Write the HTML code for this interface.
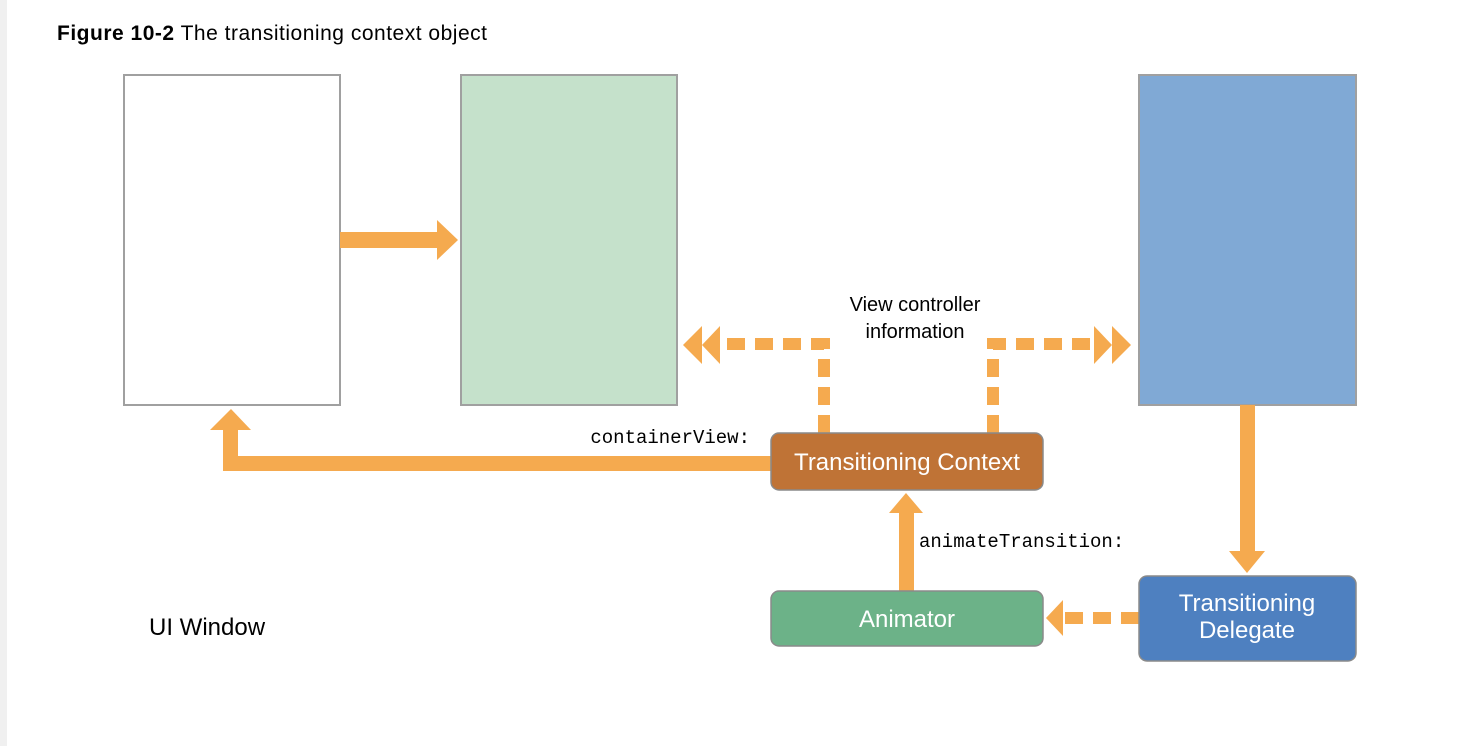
<!DOCTYPE html>
<html><head><meta charset="utf-8"><style>
html,body{margin:0;padding:0;background:#fff;}
body{width:1462px;height:746px;overflow:hidden;position:relative;}
</style></head><body>
<div style="position:absolute;left:0;top:0;width:7px;height:746px;background:#f0f0f0"></div>
<svg width="1462" height="746" style="position:absolute;left:0;top:0" font-family="Liberation Sans, sans-serif">
<text x="57" y="40" font-size="21" fill="#000" textLength="430"><tspan font-weight="bold">Figure 10-2</tspan> The transitioning context object</text>
<rect x="124" y="75" width="216" height="330" fill="#fff" stroke="#a0a0a0" stroke-width="2"/>
<rect x="461" y="75" width="216" height="330" fill="#c5e1cb" stroke="#a0a0a0" stroke-width="2"/>
<rect x="1139" y="75" width="217" height="330" fill="#80a9d5" stroke="#a0a0a0" stroke-width="2"/>
<g fill="#f5aa4f">
<rect x="340" y="232" width="100" height="16"/>
<polygon points="437,220 458,240 437,260"/>
<rect x="223" y="428" width="15" height="43"/>
<rect x="223" y="456" width="550" height="15"/>
<polygon points="210,430 231,409 251,430"/>
<rect x="899" y="510" width="15" height="82"/>
<polygon points="889,513 906,493 923,513"/>
<rect x="1240" y="405" width="15" height="150"/>
<polygon points="1229,551 1247,573 1265,551"/>
<polygon points="1063,600 1046,618 1063,636"/>
<polygon points="720,326 702,345 720,364"/>
<polygon points="702,326 683,345 702,364"/>
<polygon points="1094,326 1112,345 1094,364"/>
<polygon points="1112,326 1131,345 1112,364"/>
</g>
<g stroke="#f5aa4f" stroke-width="12" fill="none" stroke-dasharray="18 10">
<path d="M1139 618 H1060"/>
<path d="M824 433 V344 H714"/>
<path d="M993 433 V344 H1100"/>
</g>
<rect x="771" y="433" width="272" height="57" rx="8" fill="#bf7336" stroke="#8a8a8a" stroke-width="1.5"/>
<text x="907" y="470" font-size="24" fill="#fff" text-anchor="middle">Transitioning Context</text>
<rect x="771" y="591" width="272" height="55" rx="8" fill="#6cb288" stroke="#8a8a8a" stroke-width="1.5"/>
<text x="907" y="627" font-size="24" fill="#fff" text-anchor="middle">Animator</text>
<rect x="1139" y="576" width="217" height="85" rx="8" fill="#4e80c0" stroke="#8a8a8a" stroke-width="1.5"/>
<text x="1247" y="611" font-size="24" fill="#fff" text-anchor="middle">Transitioning</text>
<text x="1247" y="638" font-size="24" fill="#fff" text-anchor="middle">Delegate</text>
<text x="915" y="311" font-size="20" text-anchor="middle">View controller</text>
<text x="915" y="338" font-size="20" text-anchor="middle">information</text>
<text x="750" y="443" font-size="19" text-anchor="end" font-family="Liberation Mono, monospace">containerView:</text>
<text x="919" y="547" font-size="19" font-family="Liberation Mono, monospace">animateTransition:</text>
<text x="149" y="635" font-size="24">UI Window</text>
</svg>
</body></html>
